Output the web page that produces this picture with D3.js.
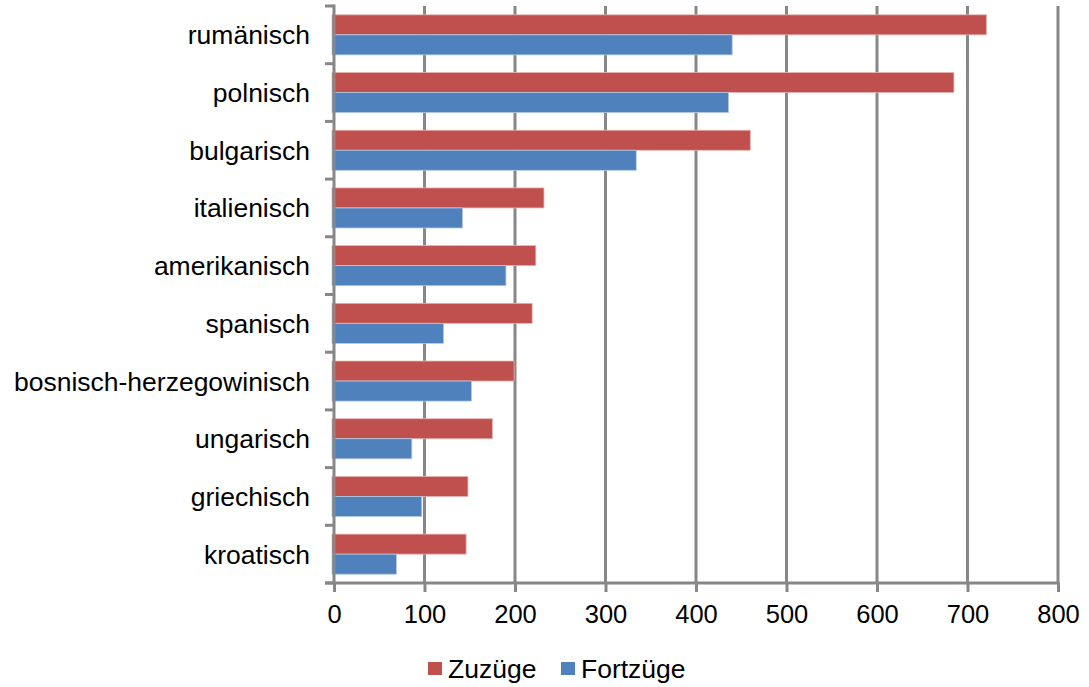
<!DOCTYPE html>
<html>
<head>
<meta charset="utf-8">
<script src="https://cdn.jsdelivr.net/npm/d3@7"></script>
<style>
  html, body { margin: 0; padding: 0; background: #ffffff; }
  svg { display: block; font-family: "Liberation Sans", Arial, sans-serif; }
</style>
</head>
<body>
<svg id="chart" width="1089" height="687"></svg>
<script>
// Nationalities, top to bottom
const categories = [
  "rumänisch", "polnisch", "bulgarisch", "italienisch", "amerikanisch",
  "spanisch", "bosnisch-herzegowinisch", "ungarisch", "griechisch", "kroatisch"
];
const seriesNames = ["Zuzüge", "Fortzüge"];
const zuzuege  = [721, 685, 460, 232, 223, 219, 199, 175, 148, 146];
const fortzuege = [440, 436, 334, 142, 190, 121, 152, 86, 97, 69];
const xTicks = [0, 100, 200, 300, 400, 500, 600, 700, 800];

const colors = { "Zuzüge": "#C0504D", "Fortzüge": "#4F81BD" };
const edge   = { "Zuzüge": "#E6B4B2", "Fortzüge": "#B4CAE6" };
const gridColor = "#878787";

const svg = d3.select("#chart");
const plot = { left: 334, right: 1058, top: 6, bottom: 583 };

const x = d3.scaleLinear().domain([0, 800]).range([plot.left, plot.right]);
const y = d3.scaleBand().domain(categories).range([plot.top, plot.bottom]).padding(0);
const inner = d3.scaleBand().domain(seriesNames).range([0, y.bandwidth()])
  .paddingInner(0).paddingOuter(0.44);

const rows = categories.map((c, i) => ({ cat: c, "Zuzüge": zuzuege[i], "Fortzüge": fortzuege[i] }));

// Vertical gridlines (drawn behind the bars)
svg.append("g").selectAll("line").data(xTicks.filter(d => d > 0)).join("line")
  .attr("x1", d => x(d)).attr("x2", d => x(d))
  .attr("y1", plot.top).attr("y2", plot.bottom)
  .attr("stroke", gridColor).attr("stroke-width", 3);

// Bars
const groups = svg.append("g").selectAll("g").data(rows).join("g")
  .attr("transform", d => `translate(0,${y(d.cat)})`);
groups.selectAll("rect").data(d => seriesNames.map(s => ({ s, v: d[s] }))).join("rect")
  .attr("x", x(0) - 2)
  .attr("y", d => inner(d.s))
  .attr("width", d => x(d.v) - x(0) + 2)
  .attr("height", inner.bandwidth())
  .attr("fill", d => colors[d.s])
  .attr("stroke", d => edge[d.s])
  .attr("stroke-width", 0.8);

// Bottom axis: tick marks and labels
const xAxis = svg.append("g")
  .attr("transform", `translate(0,${plot.bottom})`)
  .call(d3.axisBottom(x).tickValues(xTicks).tickSize(9).tickPadding(13).tickFormat(d3.format("d")));
xAxis.select(".domain").remove();
xAxis.selectAll(".tick line").attr("stroke", gridColor).attr("stroke-width", 3);
xAxis.selectAll(".tick text").attr("font-size", 25.5).attr("fill", "#000")
  .attr("font-family", "Liberation Sans, Arial, sans-serif");

// Horizontal axis line
svg.append("line")
  .attr("x1", plot.left - 9).attr("x2", plot.right + 1.5)
  .attr("y1", plot.bottom).attr("y2", plot.bottom)
  .attr("stroke", gridColor).attr("stroke-width", 3);

// Category axis: tick marks between categories
const bounds = categories.map(c => y(c)).concat([plot.bottom]);
svg.append("g").selectAll("line").data(bounds).join("line")
  .attr("x1", plot.left - 9).attr("x2", plot.left)
  .attr("y1", d => d).attr("y2", d => d)
  .attr("stroke", gridColor).attr("stroke-width", 3);

// Vertical axis line
svg.append("line")
  .attr("x1", x(0)).attr("x2", x(0))
  .attr("y1", plot.top - 1.5).attr("y2", plot.bottom)
  .attr("stroke", gridColor).attr("stroke-width", 3);

// Category labels
const yAxis = svg.append("g")
  .attr("transform", `translate(${plot.left},0)`)
  .call(d3.axisLeft(y).tickSize(0).tickPadding(24));
yAxis.select(".domain").remove();
yAxis.selectAll(".tick text").attr("font-size", 26.5).attr("fill", "#000")
  .attr("dy", "0.36em")
  .attr("font-family", "Liberation Sans, Arial, sans-serif");

// Legend
const legend = svg.append("g").attr("transform", "translate(428,662)");
const legendX = [0, 133];
seriesNames.forEach((s, i) => {
  const g = legend.append("g").attr("transform", `translate(${legendX[i]},0)`);
  g.append("rect").attr("width", 14).attr("height", 13).attr("fill", colors[s]);
  g.append("text").attr("x", 20).attr("y", 16).attr("font-size", 26.5).attr("fill", "#000").text(s);
});
</script>
</body>
</html>
